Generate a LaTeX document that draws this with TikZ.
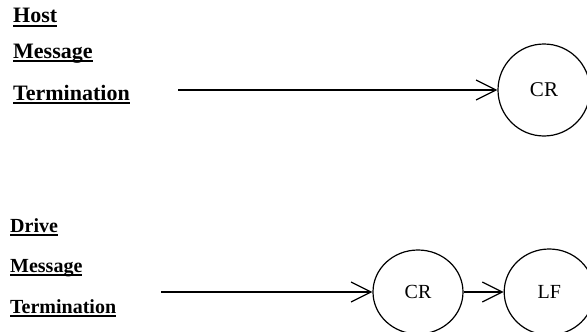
\documentclass[tikz,border=0pt]{standalone}
\usepackage{fontspec}
\setmainfont{Liberation Serif}
\usetikzlibrary{arrows.meta,shapes.geometric,positioning}

\newcommand{\ulword}[1]{\setbox0\hbox{#1}\rlap{\rule[-4pt]{\wd0}{1.7pt}}\box0}

\begin{document}
\begin{tikzpicture}[
  x=1pt, y=-1pt,
  lbl/.style={anchor=base west, inner sep=0pt, font=\bfseries\fontsize{22}{24}\selectfont},
  lblsm/.style={lbl, font=\bfseries\fontsize{20}{22}\selectfont},
  proc/.style={ellipse, draw, line width=1.2pt, inner sep=0pt, minimum width=92pt, minimum height=92pt, font=\fontsize{21}{24}\selectfont},
  flow/.style={-{Straight Barb[length=20pt,width=20pt]}, line width=1.2pt}
]
\useasboundingbox (0,0) rectangle (587,332);

% host side
\node[lbl] (host) at (13,23) {\ulword{Host}};
\node[lbl] (hmsg) at (13,58) {\ulword{Message}};
\node[lbl] (hterm) at (13,100) {\ulword{Termination}};
\coordinate (hstart) at (178,90);
\node[proc] (crtop) at (544,90) {CR};

% drive side
\node[lblsm] (drive) at (10,232) {\ulword{Drive}};
\node[lblsm] (dmsg) at (10,272) {\ulword{Message}};
\node[lblsm] (dterm) at (10,313) {\ulword{Termination}};
\coordinate (dstart) at (161,292);
\node[proc, minimum width=90pt, minimum height=84pt, font=\fontsize{20}{22}\selectfont] (crbot) at (418,292) {CR};
\node[proc, minimum width=90pt, minimum height=86pt, font=\fontsize{20}{22}\selectfont, right=40pt of crbot] (lf) {LF};

\draw[flow] (hstart) -- (crtop.west);
\draw[flow] (dstart) -- (crbot.west);
\draw[flow] (crbot) -- (lf);
\end{tikzpicture}
\end{document}
